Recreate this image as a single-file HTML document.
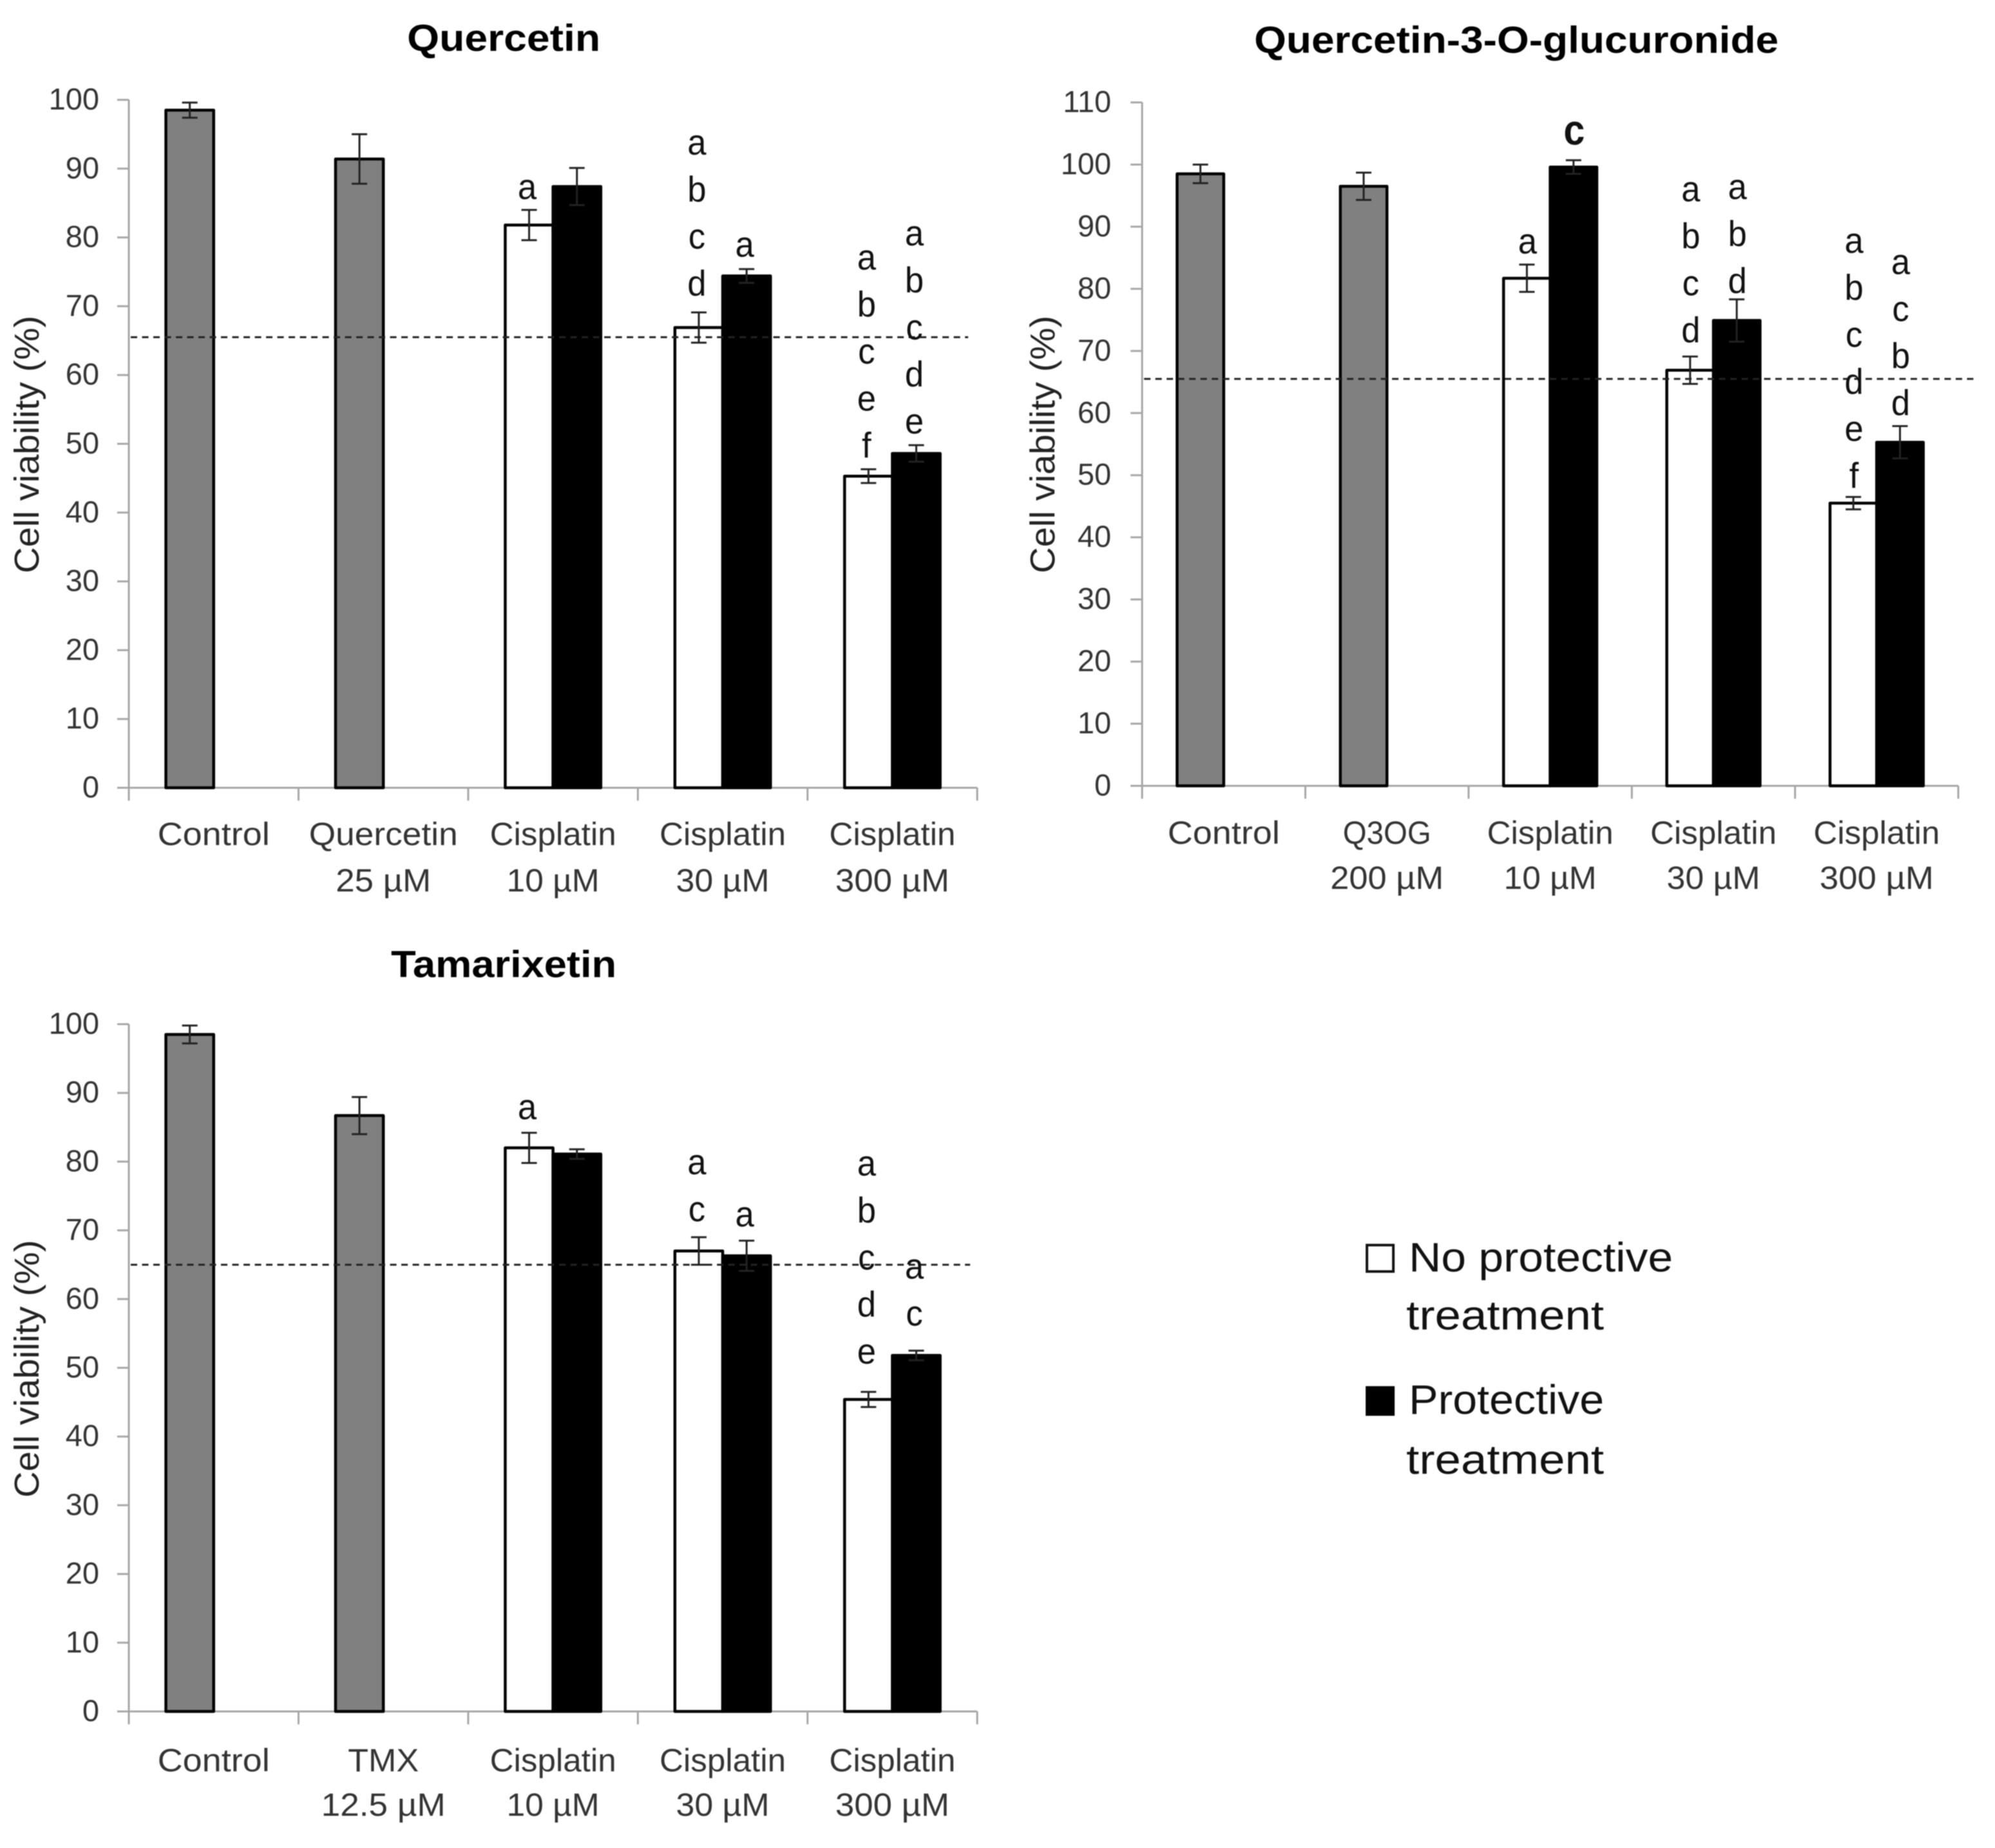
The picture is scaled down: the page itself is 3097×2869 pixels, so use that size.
<!DOCTYPE html>
<html lang="en">
<head>
<meta charset="utf-8">
<title>Cell viability charts</title>
<style>
html,body{margin:0;padding:0;background:#fff;}
#figure{display:block;width:3097px;height:2869px;font-family:"Liberation Sans",sans-serif;filter:blur(0.7px);}
</style>
</head>
<body>
<svg id="figure" xmlns="http://www.w3.org/2000/svg" width="3097" height="2869" viewBox="0 0 3097 2869">
  <rect x="0" y="0" width="3097" height="2869" fill="#ffffff"/>
  <g>
    <rect x="2122" y="1933" width="41" height="41" fill="#fff" stroke="#111" stroke-width="4"/>
    <text x="2187" y="1974" font-size="64" fill="#111" textLength="410" lengthAdjust="spacingAndGlyphs">No protective</text>
    <text x="2183" y="2064" font-size="64" fill="#111" textLength="307" lengthAdjust="spacingAndGlyphs">treatment</text>
    <rect x="2120" y="2152" width="45" height="46" fill="#000"/>
    <text x="2187" y="2195" font-size="64" fill="#111" textLength="303" lengthAdjust="spacingAndGlyphs">Protective</text>
    <text x="2183" y="2288" font-size="64" fill="#111" textLength="307" lengthAdjust="spacingAndGlyphs">treatment</text>
  </g>
</svg>
<script>
// ---------- Data: Quercetin panel ----------
const quercetinCategories = [["Control"], ["Quercetin", "25 µM"], ["Cisplatin", "10 µM"], ["Cisplatin", "30 µM"], ["Cisplatin", "300 µM"]];
const quercetinTicks = [0, 10, 20, 30, 40, 50, 60, 70, 80, 90, 100];
const quercetinGray = [98.5, 91.4, null, null, null];
const quercetinGrayErr = [1.1, 3.6, null, null, null];
const quercetinWhite = [null, null, 81.8, 66.9, 45.3];
const quercetinWhiteErr = [null, null, 2.2, 2.2, 1.0];
const quercetinBlack = [null, null, 87.4, 74.4, 48.6];
const quercetinBlackErr = [null, null, 2.7, 1.0, 1.2];
const quercetinWhiteLetters = ["", "", "a", "abcd", "abcef"];
const quercetinBlackLetters = ["", "", "", "a", "abcde"];
const quercetinThreshold = 65.5;

// ---------- Data: Quercetin-3-O-glucuronide panel ----------
const q3ogCategories = [["Control"], ["Q3OG", "200 µM"], ["Cisplatin", "10 µM"], ["Cisplatin", "30 µM"], ["Cisplatin", "300 µM"]];
const q3ogTicks = [0, 10, 20, 30, 40, 50, 60, 70, 80, 90, 100, 110];
const q3ogGray = [98.5, 96.5, null, null, null];
const q3ogGrayErr = [1.5, 2.2, null, null, null];
const q3ogWhite = [null, null, 81.7, 66.9, 45.5];
const q3ogWhiteErr = [null, null, 2.2, 2.2, 1.0];
const q3ogBlack = [null, null, 99.6, 74.9, 55.3];
const q3ogBlackErr = [null, null, 1.1, 3.4, 2.6];
const q3ogWhiteLetters = ["", "", "a", "abcd", "abcdef"];
const q3ogBlackLetters = ["", "", "c", "abd", "acbd"];
const q3ogThreshold = 65.5;

// ---------- Data: Tamarixetin panel ----------
const tamarixetinCategories = [["Control"], ["TMX", "12.5 µM"], ["Cisplatin", "10 µM"], ["Cisplatin", "30 µM"], ["Cisplatin", "300 µM"]];
const tamarixetinTicks = [0, 10, 20, 30, 40, 50, 60, 70, 80, 90, 100];
const tamarixetinGray = [98.5, 86.7, null, null, null];
const tamarixetinGrayErr = [1.3, 2.7, null, null, null];
const tamarixetinWhite = [null, null, 82.0, 67.0, 45.4];
const tamarixetinWhiteErr = [null, null, 2.2, 2.0, 1.1];
const tamarixetinBlack = [null, null, 81.1, 66.3, 51.8];
const tamarixetinBlackErr = [null, null, 0.7, 2.2, 0.7];
const tamarixetinWhiteLetters = ["", "", "a", "ac", "abcde"];
const tamarixetinBlackLetters = ["", "", "", "a", "ac"];
const tamarixetinThreshold = 65;

// ---------- Rendering ----------
const SVGNS = "http://www.w3.org/2000/svg";
const svg = document.getElementById("figure");
const labelWidths = {"Control":174,"Quercetin":231,"25 µM":148,"Cisplatin":196,"10 µM":144,"30 µM":145,"300 µM":177,"Q3OG":137,"200 µM":176,"TMX":110,"12.5 µM":193};
const letterAdvance = {a:0.556,b:0.556,c:0.5,d:0.556,e:0.556,f:0.278};

function make(tag, attrs, parent, text) {
  const el = document.createElementNS(SVGNS, tag);
  for (const k in attrs) el.setAttribute(k, attrs[k]);
  if (text !== undefined) el.textContent = text;
  parent.appendChild(el);
  return el;
}

function drawPanel(p) {
  const group = make("g", {}, svg);
  
  
  const maxV = p.ticks[p.ticks.length - 1];
  const yOf = v => p.y0 - (v / maxV) * (p.y0 - p.yMax);
  const catW = (p.xRight - p.xLeft) / p.categories.length;
  const barW = catW / p.barDiv;
  const centerOf = i => p.xLeft + catW * (i + 0.5);

  const title = make("text", {x: p.titleX, y: p.titleY, "font-size": 58, "font-weight": "bold", fill: "#000", "text-anchor": "middle", textLength: p.titleW, lengthAdjust: "spacingAndGlyphs"}, group, p.title);
  
  

  const yTitle = make("text", {transform: "translate(" + p.yTitleX + " " + p.yTitleY + ") rotate(-90)", "font-size": 54, fill: "#222", "text-anchor": "middle", textLength: 400, lengthAdjust: "spacingAndGlyphs"}, group, "Cell viability (%)");
  
  

  // axes
  const yAxis = make("line", {x1: p.xLeft, x2: p.xLeft, y1: yOf(maxV), y2: p.y0, stroke: "#a6a6a6", "stroke-width": 3}, group);
  
  
  const xAxis = make("line", {x1: p.xLeft, x2: p.xRight, y1: p.y0, y2: p.y0, stroke: "#a6a6a6", "stroke-width": 3}, group);
  
  

  p.ticks.forEach(t => {
    const tick = make("line", {x1: p.xLeft - 18, x2: p.xLeft, y1: yOf(t), y2: yOf(t), stroke: "#a6a6a6", "stroke-width": 3}, group);
    
    
    const lab = make("text", {x: p.tickLabelX, y: yOf(t) + 15, "font-size": 47, fill: "#333", "text-anchor": "end"}, group, String(t));
    
    
  });

  for (let i = 0; i <= p.categories.length; i++) {
    const tick = make("line", {x1: p.xLeft + catW * i, x2: p.xLeft + catW * i, y1: p.y0, y2: p.y0 + 20, stroke: "#a6a6a6", "stroke-width": 3}, group);
    
    
  }

  p.categories.forEach((lines, i) => {
    lines.forEach((line, j) => {
      const lab = make("text", {x: centerOf(i), y: p.catY[j], "font-size": 50, fill: "#333", "text-anchor": "middle", textLength: labelWidths[line], lengthAdjust: "spacingAndGlyphs"}, group, line);
      
      
    });
  });

  // bars
  function drawSeries(values, fill, leftOf, name) {
    values.forEach((v, i) => {
      if (v === null) return;
      const x = leftOf(i);
      const bar = make("rect", {x: x, y: yOf(v), width: barW, height: p.y0 - yOf(v), fill: fill, stroke: "#000", "stroke-width": 4.5, "stroke-linejoin": "round"}, group);
      
      
    });
  }
  function drawErrors(values, errs, leftOf, name) {
    values.forEach((v, i) => {
      if (v === null) return;
      const cx = leftOf(i) + barW / 2;
      const hi = yOf(v + errs[i]), lo = yOf(v - errs[i]);
      const err = make("path", {d: "M" + (cx - 12) + " " + hi + "H" + (cx + 12) + "M" + cx + " " + hi + "V" + lo + "M" + (cx - 12) + " " + lo + "H" + (cx + 12), fill: "none", stroke: "#222", "stroke-width": 3}, group);
      
      
    });
  }
  const grayLeft = i => centerOf(i) - barW;
  const whiteLeft = i => centerOf(i) - barW;
  const blackLeft = i => centerOf(i);
  drawSeries(p.gray, "#808080", grayLeft, "reference");
  drawSeries(p.white, "#ffffff", whiteLeft, "no-protective");
  drawSeries(p.black, "#000000", blackLeft, "protective");
  drawErrors(p.gray, p.grayErr, grayLeft, "reference");
  drawErrors(p.white, p.whiteErr, whiteLeft, "no-protective");
  drawErrors(p.black, p.blackErr, blackLeft, "protective");

  // threshold
  const dash = make("line", {x1: p.xLeft + 3, x2: p.dashEnd, y1: yOf(p.threshold), y2: yOf(p.threshold), stroke: "#222", "stroke-width": 3, "stroke-dasharray": "10 7.5"}, group);
  
  

  // significance letters
  function drawLetters(letters, values, errs, leftOf, gaps) {
    letters.forEach((str, i) => {
      if (!str) return;
      const cx = leftOf(i) + barW / 2 + p.letterShift;
      const top = yOf(values[i] + errs[i]);
      const chars = str.split("");
      chars.forEach((ch, k) => {
        const center = top - gaps[i] - (chars.length - 1 - k) * 73;
        const bold = p.boldLetter && p.boldLetter === (i + ":" + ch);
        const size = bold ? 66 : 56;
        const t = make("text", {x: cx, y: center + (bold ? 17 : 14), "font-size": size, "font-weight": bold ? "bold" : "normal", fill: "#111", "text-anchor": "middle", textLength: letterAdvance[ch] * size * (bold ? 1.0 : 0.94), lengthAdjust: "spacingAndGlyphs"}, group, ch);
        
        
      });
    });
  }
  drawLetters(p.whiteLetters, p.white, p.whiteErr, whiteLeft, p.whiteGaps);
  drawLetters(p.blackLetters, p.black, p.blackErr, blackLeft, p.blackGaps);
}

drawPanel({
  slug: "quercetin", title: "Quercetin", titleX: 782, titleY: 79, titleW: 300,
  categories: quercetinCategories, ticks: quercetinTicks,
  gray: quercetinGray, grayErr: quercetinGrayErr, white: quercetinWhite, whiteErr: quercetinWhiteErr,
  black: quercetinBlack, blackErr: quercetinBlackErr, whiteLetters: quercetinWhiteLetters, blackLetters: quercetinBlackLetters,
  threshold: quercetinThreshold,
  xLeft: 200, xRight: 1517, y0: 1223, yMax: 155, dashEnd: 1503, tickLabelX: 154,
  yTitleX: 60, yTitleY: 690, catY: [1312, 1384], barDiv: 3.55, letterShift: -3,
  whiteGaps: [0, 0, 31, 40, 32], blackGaps: [0, 0, 0, 33, 32]
});

drawPanel({
  slug: "quercetin-3-o-glucuronide", title: "Quercetin-3-O-glucuronide", titleX: 2354, titleY: 82, titleW: 814,
  categories: q3ogCategories, ticks: q3ogTicks,
  gray: q3ogGray, grayErr: q3ogGrayErr, white: q3ogWhite, whiteErr: q3ogWhiteErr,
  black: q3ogBlack, blackErr: q3ogBlackErr, whiteLetters: q3ogWhiteLetters, blackLetters: q3ogBlackLetters,
  threshold: q3ogThreshold, boldLetter: "2:c",
  xLeft: 1773, xRight: 3040, y0: 1220, yMax: 159, dashEnd: 3071, tickLabelX: 1725,
  yTitleX: 1637, yTitleY: 690, catY: [1310, 1380], barDiv: 3.5, letterShift: 1,
  whiteGaps: [0, 0, 31, 36, 28], blackGaps: [0, 0, 41, 24, 31]
});

drawPanel({
  slug: "tamarixetin", title: "Tamarixetin", titleX: 782, titleY: 1517, titleW: 350,
  categories: tamarixetinCategories, ticks: tamarixetinTicks,
  gray: tamarixetinGray, grayErr: tamarixetinGrayErr, white: tamarixetinWhite, whiteErr: tamarixetinWhiteErr,
  black: tamarixetinBlack, blackErr: tamarixetinBlackErr, whiteLetters: tamarixetinWhiteLetters, blackLetters: tamarixetinBlackLetters,
  threshold: tamarixetinThreshold,
  xLeft: 200, xRight: 1517, y0: 2657, yMax: 1590, dashEnd: 1506, tickLabelX: 154,
  yTitleX: 60, yTitleY: 2125, catY: [2750, 2819], barDiv: 3.55, letterShift: -3,
  whiteGaps: [0, 0, 35, 39, 58], blackGaps: [0, 0, 0, 36, 53]
});
</script>
</body>
</html>
